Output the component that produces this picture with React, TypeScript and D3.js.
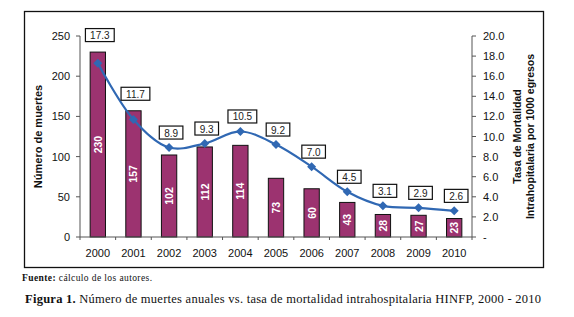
import React from "react";
import * as d3 from "d3";

const years = ["2000", "2001", "2002", "2003", "2004", "2005", "2006", "2007", "2008", "2009", "2010"];
const deaths = [230, 157, 102, 112, 114, 73, 60, 43, 28, 27, 23];
const rates = [17.3, 11.7, 8.9, 9.3, 10.5, 9.2, 7.0, 4.5, 3.1, 2.9, 2.6];
const leftTicks = [0, 50, 100, 150, 200, 250];
const rightTicks = [0, 2, 4, 6, 8, 10, 12, 14, 16, 18, 20];

const W = 574;
const H = 317;
const plot = { left: 80, right: 472, top: 36, bottom: 237 };
const sans = "'Liberation Sans', Arial, sans-serif";
const serif = "'Liberation Serif', 'DejaVu Serif', serif";
const barColor = "#9C3370";
const lineColor = "#3068B3";

export default function App() {
  const x = d3.scaleBand<string>().domain(years).range([plot.left, plot.right]).padding(0);
  const yL = d3.scaleLinear().domain([0, 250]).range([plot.bottom, plot.top]);
  const yR = d3.scaleLinear().domain([0, 20]).range([plot.bottom, plot.top]);
  const bw = x.bandwidth() * 0.43;
  const cx = (y: string) => (x(y) as number) + x.bandwidth() / 2;

  const line = d3
    .line<number>()
    .x((_, i) => cx(years[i]))
    .y((d) => yR(d))
    .curve(d3.curveCatmullRom.alpha(0.5));

  const titleCy = (plot.top + plot.bottom) / 2;

  return (
    <svg
      width={W}
      height={H}
      style={{ position: "absolute", left: 0, top: 0, background: "#fff" }}
      fontFamily={sans}
    >
      <rect x={0} y={0} width={W} height={H} fill="#fff" />
      <rect x={24.5} y={11.5} width={519} height={256} fill="none" stroke="#111" strokeWidth={1.3} />

      {/* bars */}
      {deaths.map((d, i) => {
        const xc = cx(years[i]);
        const top = yL(d);
        return (
          <g key={"b" + i}>
            <rect
              x={xc - bw / 2}
              y={top}
              width={bw}
              height={plot.bottom - top}
              fill={barColor}
              stroke="#111"
              strokeWidth={1}
            />
            <text
              transform={`translate(${xc},${(top + plot.bottom) / 2}) rotate(-90)`}
              textAnchor="middle"
              dominantBaseline="central"
              fill="#fff"
              fontWeight="bold"
              fontSize={10.5}
            >
              {d}
            </text>
          </g>
        );
      })}

      {/* left axis */}
      <line x1={plot.left} x2={plot.left} y1={plot.top} y2={plot.bottom} stroke="#555" strokeWidth={1} />
      {leftTicks.map((t) => (
        <g key={"lt" + t}>
          <line x1={plot.left - 4} x2={plot.left} y1={yL(t)} y2={yL(t)} stroke="#555" />
          <text x={plot.left - 10} y={yL(t)} textAnchor="end" dominantBaseline="central" fontSize={11} fill="#111">
            {t}
          </text>
        </g>
      ))}

      {/* right axis */}
      <line x1={plot.right} x2={plot.right} y1={plot.top} y2={plot.bottom} stroke="#555" strokeWidth={1} />
      {rightTicks.map((t) => (
        <g key={"rt" + t}>
          <line x1={plot.right} x2={plot.right + 4} y1={yR(t)} y2={yR(t)} stroke="#555" />
          <text x={plot.right + 11} y={yR(t)} textAnchor="start" dominantBaseline="central" fontSize={11} fill="#111">
            {t === 0 ? "-" : d3.format(".1f")(t)}
          </text>
        </g>
      ))}

      {/* x axis */}
      <line x1={plot.left} x2={plot.right} y1={plot.bottom} y2={plot.bottom} stroke="#555" />
      {years.map((y) => (
        <g key={"xt" + y}>
          <line x1={x(y) as number} x2={x(y) as number} y1={plot.bottom} y2={plot.bottom + 3} stroke="#555" />
          <text x={cx(y)} y={plot.bottom + 16} textAnchor="middle" dominantBaseline="central" fontSize={11} fill="#111">
            {y}
          </text>
        </g>
      ))}
      <line x1={plot.right} x2={plot.right} y1={plot.bottom} y2={plot.bottom + 3} stroke="#555" />

      {/* rate line */}
      <path d={line(rates) || ""} fill="none" stroke={lineColor} strokeWidth={2.2} />
      {rates.map((r, i) => {
        const px = cx(years[i]);
        const py = yR(r);
        return (
          <path
            key={"m" + i}
            d={`M${px},${py - 4.5}L${px + 4.5},${py}L${px},${py + 4.5}L${px - 4.5},${py}Z`}
            fill={lineColor}
          />
        );
      })}

      {/* rate labels */}
      {rates.map((r, i) => {
        const px = cx(years[i]) + 2;
        const ly = Math.min(yR(r) - 15, yL(deaths[i]) - 17);
        const label = d3.format(".1f")(r);
        const w = label.length * 5.2 + 8;
        return (
          <g key={"l" + i}>
            <rect x={px - w / 2} y={ly - 6.5} width={w} height={13} fill="#fff" stroke="#111" strokeWidth={1.2} />
            <text x={px} y={ly + 0.5} textAnchor="middle" dominantBaseline="central" fontSize={10} fill="#222">
              {label}
            </text>
          </g>
        );
      })}

      {/* axis titles */}
      <text
        transform={`translate(38,${titleCy}) rotate(-90)`}
        textAnchor="middle"
        dominantBaseline="central"
        fontWeight="bold"
        fontSize={11}
        fill="#111"
      >
        Número de muertes
      </text>
      <text
        transform={`translate(517,${titleCy}) rotate(-90)`}
        textAnchor="middle"
        dominantBaseline="central"
        fontWeight="bold"
        fontSize={10.5}
        fill="#111"
      >
        Tasa de Mortalidad
      </text>
      <text
        transform={`translate(530,${titleCy}) rotate(-90)`}
        textAnchor="middle"
        dominantBaseline="central"
        fontWeight="bold"
        fontSize={10.5}
        fill="#111"
      >
        Intrahopitalaria por 1000 egresos
      </text>

      {/* captions */}
      <text
        x={22}
        y={278}
        dominantBaseline="central"
        fontFamily={serif}
        fontSize={9.5}
        fill="#111"
        textLength={130}
        lengthAdjust="spacing"
      >
        <tspan fontWeight="bold">Fuente:</tspan> cálculo de los autores.
      </text>
      <text
        x={25}
        y={299}
        dominantBaseline="central"
        fontFamily={serif}
        fontSize={12.5}
        fill="#111"
        textLength={516}
        lengthAdjust="spacing"
      >
        <tspan fontWeight="bold">Figura 1.</tspan> Número de muertes anuales vs. tasa de mortalidad intrahospitalaria HINFP, 2000 - 2010
      </text>
    </svg>
  );
}
